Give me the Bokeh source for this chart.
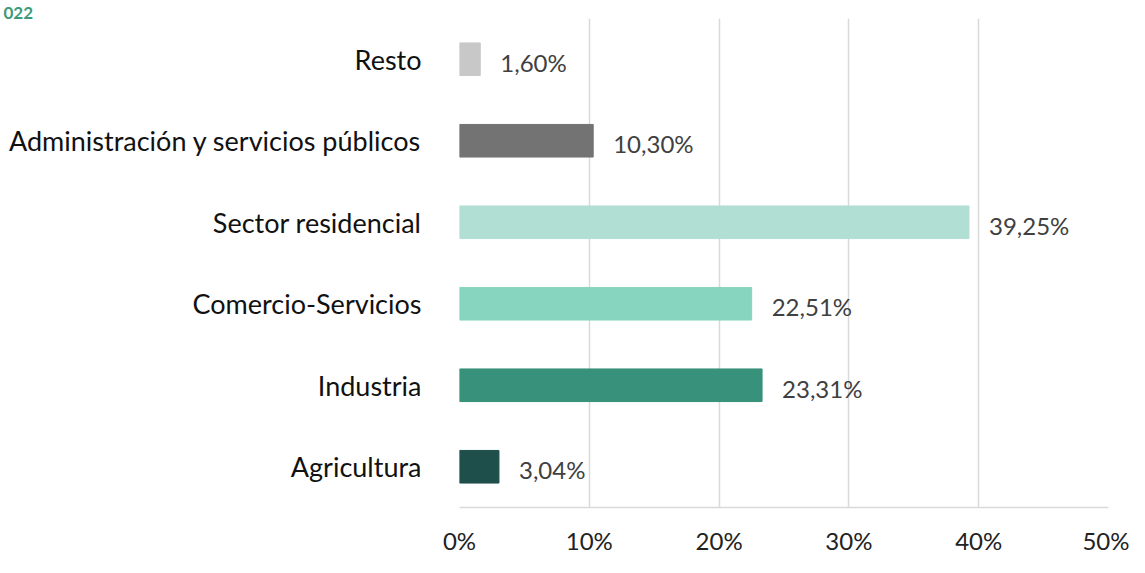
from bokeh.plotting import figure
from bokeh.models import Range1d, FactorRange, FixedTicker, PrintfTickFormatter, ColumnDataSource
from bokeh.core.properties import value
from bokeh.embed import file_html
from bokeh.resources import INLINE

categories = ["Resto", "Administración y servicios públicos", "Sector residencial",
              "Comercio-Servicios", "Industria", "Agricultura"]
values = [1.60, 10.30, 39.25, 22.51, 23.31, 3.04]
colors = ["#c8c8c8", "#737373", "#b2dfd3", "#87d5bf", "#38917a", "#1e4f4b"]
x_ticks = [0, 10, 20, 30, 40, 50]
title_text = "022"

FONT = "Lato"
W, H = 1129, 557
LEFT, RIGHT, TOP, BOTTOM = 459, 21, 18, 49

labels = [f"{v:.2f}%".replace(".", ",") for v in values]
src = ColumnDataSource(dict(cat=categories, val=values, color=colors, label=labels))

p = figure(width=W, height=H, output_backend="svg", toolbar_location=None,
           y_range=FactorRange(*reversed(categories)), x_range=Range1d(0, 50),
           min_border_left=LEFT, min_border_right=RIGHT, min_border_top=TOP, min_border_bottom=BOTTOM)
p.outline_line_color = None
p.background_fill_color = "white"
p.border_fill_color = "white"

p.title.text = title_text
p.title.align = "left"
p.title.offset = -LEFT + 3
p.title.standoff = 0
p.title.text_font = FONT
p.title.text_font_style = "bold"
p.title.text_font_size = "17px"
p.title.text_color = "#3a9a7a"

p.hbar(y="cat", right="val", left=0, height=0.4, color="color", source=src)
p.text(x="val", y="cat", text="label", source=src, x_offset=20, y_offset=3,
       text_align="left", text_baseline="middle", text_font=value(FONT),
       text_font_size="24px", text_color="#404040")

p.xaxis.ticker = FixedTicker(ticks=x_ticks)
p.xaxis.formatter = PrintfTickFormatter(format="%d%%")
p.xaxis.major_tick_line_color = None
p.xaxis.minor_tick_line_color = None
p.xaxis.major_tick_out = 0
p.xaxis.major_tick_in = 0
p.xaxis.axis_line_color = "#d9d9d9"
p.xaxis.axis_line_width = 1.5
p.xaxis.major_label_standoff = 18
p.xaxis.major_label_text_font = FONT
p.xaxis.major_label_text_font_size = "24px"
p.xaxis.major_label_text_color = "#222222"

p.yaxis.axis_line_color = None
p.yaxis.major_tick_line_color = None
p.yaxis.minor_tick_line_color = None
p.yaxis.major_tick_out = 0
p.yaxis.major_tick_in = 0
p.yaxis.major_label_standoff = 38
p.yaxis.major_label_text_font = FONT
p.yaxis.major_label_text_font_size = "27px"
p.yaxis.major_label_text_color = "#111111"

p.xgrid.ticker = FixedTicker(ticks=x_ticks)
p.xgrid.grid_line_color = "#d9d9d9"
p.xgrid.grid_line_width = 1.5
p.ygrid.grid_line_color = None

open("out.html", "w").write(file_html(p, INLINE))
